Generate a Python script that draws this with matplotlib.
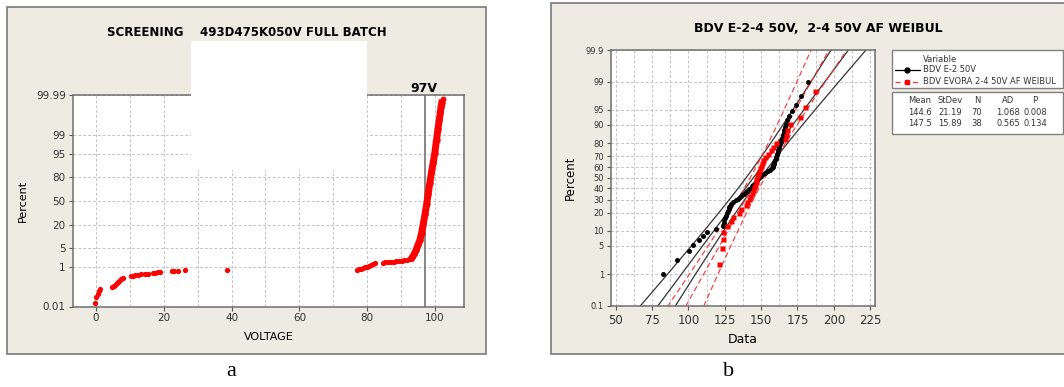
import numpy as np
import matplotlib
matplotlib.use('Agg')
import matplotlib.pyplot as plt
from matplotlib.patches import Rectangle
from matplotlib.lines import Line2D
from matplotlib.ticker import FixedLocator, NullLocator, MultipleLocator
from statistics import NormalDist

# ---------------- panel a : screening, voltage vs cumulative percent
a_sparse_v = [-0.3, 0.0, 0.5, 0.9, 1.3, 4.8, 5.3, 5.7, 6.1, 6.5, 6.9, 7.3, 7.8,
              10.3, 10.9, 11.6, 12.4, 13.4, 14.3, 15.2, 16.7, 17.4, 18.2, 19.0,
              22.3, 23.0, 24.2, 26.3, 38.5,
              76.9, 77.5, 78.1, 78.7, 79.3, 79.9, 80.5, 81.1, 81.7, 82.3,
              84.7, 85.4, 86.2, 87.0, 87.8, 88.6, 89.4, 90.2, 91.0, 91.8, 92.6]
a_sparse_p = [0.0165, 0.037, 0.055, 0.075, 0.10, 0.12, 0.14, 0.16, 0.19, 0.22, 0.25, 0.29, 0.34,
              0.39, 0.41, 0.43, 0.45, 0.48, 0.50, 0.52, 0.56, 0.58, 0.60, 0.62,
              0.67, 0.69, 0.70, 0.73, 0.75,
              0.76, 0.80, 0.85, 0.90, 0.96, 1.03, 1.10, 1.20, 1.32, 1.45,
              1.47, 1.50, 1.53, 1.56, 1.60, 1.64, 1.68, 1.73, 1.80, 1.90, 2.05]
# steep, densely packed part of the curve
a_dense_v = [93.3, 93.9, 94.5, 95.0, 95.6, 96.1, 96.6, 97.1, 97.6, 98.0, 98.5, 99.0,
             99.5, 100.0, 100.5, 100.9, 101.3, 101.6, 101.8, 102.0]
a_dense_p = [2.3, 3.0, 4.2, 6.0, 8.4, 13, 21, 32, 46, 59, 73, 84,
             91, 95.5, 98.4, 99.4, 99.77, 99.90, 99.95, 99.97]
a_top_v = [102.3]
a_top_p = [99.983]
a_limit = 97
a_yticks = [0.01, 1, 5, 20, 50, 80, 95, 99, 99.99]
a_ylabels = ['0.01', '1', '5', '20', '50', '80', '95', '99', '99.99']

# ---------------- panel b : two breakdown voltage samples
b_black = [82.8, 92.0, 100.7, 103.3, 107.3, 109.8, 113.0, 119.3, 123.5,
           124.2, 124.8, 125.3, 125.9, 126.5, 127.0, 127.6, 128.2, 128.8, 129.5,
           131.0, 132.6, 134.0, 135.5, 137.0, 138.3, 139.5, 140.6, 141.8,
           143.0, 143.8, 144.6, 145.5, 146.3, 147.2, 148.0, 149.0, 150.0,
           151.5, 153.0, 154.5, 156.0,
           157.5, 158.0, 158.4, 158.8, 159.2, 159.6, 160.0, 160.3, 160.7, 161.0,
           161.4, 161.8, 162.2, 162.6, 163.0, 163.4, 163.8,
           164.2, 164.8, 165.5, 166.0, 166.5, 167.0,
           167.5, 169.0, 171.0, 174.0, 177.4, 182.4]
b_red = [121.2, 122.8, 123.5, 124.0, 126.5, 129.0, 130.5, 134.5, 136.5, 139.5,
         140.5, 141.5, 142.5, 143.5, 144.3, 145.0, 145.6, 146.2, 146.8, 147.4,
         148.0, 148.6, 149.3, 150.0, 150.8, 151.6, 152.5, 154.5, 156.5, 158.5,
         160.5, 166.5, 167.0, 167.5, 169.8, 176.7, 180.1, 187.0]
b_names = ['BDV E-2 50V', 'BDV EVORA 2-4 50V AF WEIBUL']
b_mean = [144.6, 147.5]
b_sd = [21.19, 15.89]
b_n = [70, 38]
b_ad = ['1.068', '0.565']
b_p = ['0.008', '0.134']
b_yticks = [0.1, 1, 5, 10, 20, 30, 40, 50, 60, 70, 80, 90, 95, 99, 99.9]
b_ylabels = ['0.1', '1', '5', '10', '20', '30', '40', '50', '60', '70', '80', '90', '95', '99', '99.9']

W, H = 1064, 387
def fx(px): return px / W
def fy(py): return 1 - py / H

nd = NormalDist()
_ppf = np.vectorize(nd.inv_cdf, otypes=[float])
_cdf = np.vectorize(nd.cdf, otypes=[float])

def prob_fwd(p):
    p = np.clip(np.asarray(p, float) / 100.0, 1e-9, 1 - 1e-9)
    return _ppf(p)

def prob_inv(z):
    return 100.0 * _cdf(np.asarray(z, float))

BG = '#EEEBE2'
GRID = dict(color='#c4c4c4', linestyle=(0, (3, 2)), linewidth=0.7)
TICKC = '#333333'
TXT = dict(fontsize=6, va='center', color='#333333', zorder=6)

fig = plt.figure(figsize=(10.64, 3.87), dpi=100)
fig.patch.set_facecolor('white')

# panel frames
fig.add_artist(Rectangle((fx(7), fy(354)), fx(486) - fx(7), fy(7) - fy(354),
                         transform=fig.transFigure, facecolor=BG, edgecolor='#7a7a7a',
                         lw=1.2, zorder=-2))
fig.add_artist(Rectangle((fx(551), fy(354)), fx(1070) - fx(551), fy(3) - fy(354),
                         transform=fig.transFigure, facecolor=BG, edgecolor='#7a7a7a',
                         lw=1.2, zorder=-2))

# ---------------- panel a
ax1 = fig.add_axes([fx(72.7), fy(306.5), fx(464) - fx(72.7), fy(95) - fy(306.5)])
ax1.set_yscale('function', functions=(prob_fwd, prob_inv))
ax1.set_xlim(-6.9, 108.6)
ax1.set_ylim(0.01, 99.99)
ax1.yaxis.set_major_locator(FixedLocator(a_yticks))
ax1.yaxis.set_minor_locator(NullLocator())
ax1.set_yticklabels(a_ylabels)
ax1.xaxis.set_major_locator(MultipleLocator(20))
ax1.xaxis.set_minor_locator(MultipleLocator(10))
ax1.grid(True, which='both', axis='x', **GRID)
ax1.grid(True, which='major', axis='y', **GRID)
ax1.tick_params(which='minor', length=0)
ax1.tick_params(which='major', length=3, color='#555555', labelsize=7.5,
                labelcolor=TICKC, pad=2)
for s in ax1.spines.values():
    s.set_color('#6e6e6e')
    s.set_linewidth(1.1)
ax1.axvline(a_limit, color='#7d7d7d', lw=1.3, zorder=2)
ax1.plot(a_sparse_v, a_sparse_p, 'o', color='#ff0000', ms=3.8, mec='none', zorder=3)
ax1.plot(a_dense_v, a_dense_p, '-o', color='#ff0000', ms=4.6, lw=5.0, mec='none', zorder=3)
ax1.plot(a_top_v, a_top_p, 'o', color='#ff0000', ms=4.2, mec='none', zorder=3)
ax1.set_xlabel('VOLTAGE', fontsize=8, labelpad=6)
ax1.set_ylabel('Percent', fontsize=8, labelpad=6)
fig.text(fx(424), fy(88), '97V', ha='center', va='center', fontsize=9, fontweight='bold')
fig.text(fx(247), fy(32), 'SCREENING    493D475K050V FULL BATCH', ha='center',
         va='center', fontsize=8.5, fontweight='bold')
# blanked area of the original figure
fig.add_artist(Rectangle((fx(190.7), fy(169.5)), fx(366.7) - fx(190.7), fy(41) - fy(169.5),
                         transform=fig.transFigure, facecolor='white', edgecolor='none',
                         zorder=5))

# ---------------- panel b
ax2 = fig.add_axes([fx(611), fy(305.7), fx(875) - fx(611), fy(50) - fy(305.7)])
ax2.set_yscale('function', functions=(prob_fwd, prob_inv))
ax2.set_xlim(46.8, 228.3)
ax2.set_ylim(0.1, 99.9)
ax2.yaxis.set_major_locator(FixedLocator(b_yticks))
ax2.yaxis.set_minor_locator(NullLocator())
ax2.set_yticklabels(b_ylabels)
ax2.xaxis.set_major_locator(MultipleLocator(25))
ax2.xaxis.set_minor_locator(MultipleLocator(12.5))
ax2.grid(True, which='both', axis='x', **GRID)
ax2.grid(True, which='major', axis='y', **GRID)
ax2.tick_params(which='minor', length=0)
ax2.tick_params(axis='y', which='major', length=3, color='#555555', labelsize=6,
                labelcolor=TICKC, pad=2)
ax2.tick_params(axis='x', which='major', length=3, color='#555555', labelsize=8.5,
                labelcolor=TICKC, pad=3)
for s in ax2.spines.values():
    s.set_color('#6e6e6e')
    s.set_linewidth(1.1)

z = np.linspace(-3.3, 3.3, 200)
pct = prob_inv(z)
fit_styles = [dict(color='#333333', lw=0.9, ls='-'), dict(color='#ff3030', lw=0.8, ls=(0, (5, 3)))]
for mu, sd, n, st in zip(b_mean, b_sd, b_n, fit_styles):
    half = 1.96 * sd * np.sqrt(1.0 / n + z ** 2 / (2.0 * (n - 1)))
    ax2.plot(mu + sd * z, pct, zorder=2, **st)
    ax2.plot(mu + sd * z - half, pct, zorder=2, **st)
    ax2.plot(mu + sd * z + half, pct, zorder=2, **st)

for vals, mk, col in [(b_black, 'o', 'black'), (b_red, 's', '#ff0000')]:
    vals = np.sort(np.asarray(vals))
    n = len(vals)
    pos = (np.arange(1, n + 1) - 0.3) / (n + 0.4) * 100
    ax2.plot(vals, pos, mk, color=col, ms=3.6, mec='none', zorder=3)

ax2.set_xlabel('Data', fontsize=9, labelpad=4)
ax2.set_ylabel('Percent', fontsize=8.5, labelpad=6)
fig.text(fx(818), fy(29), 'BDV E-2-4 50V,  2-4 50V AF WEIBUL', ha='center', va='center',
         fontsize=9, fontweight='bold')

# legend box
fig.add_artist(Rectangle((fx(891.7), fy(88)), fx(1063) - fx(891.7), fy(50) - fy(88),
                         transform=fig.transFigure, facecolor='white', edgecolor='#808080',
                         lw=1.0, zorder=4))
fig.text(fx(923), fy(59), 'Variable', ha='left', **TXT)
fig.add_artist(Line2D([fx(895), fx(907), fx(920)], [fy(70), fy(70), fy(70)], color='black',
                      lw=0.9, marker='o', ms=3.5, markevery=[1], transform=fig.transFigure, zorder=5))
fig.add_artist(Line2D([fx(895), fx(907), fx(920)], [fy(81.5), fy(81.5), fy(81.5)], color='#ff3030',
                      lw=0.9, ls=(0, (4, 3)), marker='s', ms=3.5, mfc='#ff0000', mec='#ff0000',
                      markevery=[1], transform=fig.transFigure, zorder=5))
for row, name in enumerate(b_names):
    fig.text(fx(923), fy(70 + 11.5 * row), name, ha='left', **TXT)

# stats table box
fig.add_artist(Rectangle((fx(891.7), fy(134)), fx(1063) - fx(891.7), fy(92) - fy(134),
                         transform=fig.transFigure, facecolor='white', edgecolor='#808080',
                         lw=1.0, zorder=4))
cols_x = [920, 950, 977, 1008, 1035]
for cx, head in zip(cols_x, ['Mean', 'StDev', 'N', 'AD', 'P']):
    fig.text(fx(cx), fy(100.7), head, ha='center', **TXT)
for row in range(2):
    vals = ['%.1f' % b_mean[row], '%.2f' % b_sd[row], str(b_n[row]), b_ad[row], b_p[row]]
    for cx, v in zip(cols_x, vals):
        fig.text(fx(cx), fy(112.3 + 11.7 * row), v, ha='center', **TXT)

# panel letters
fig.text(fx(231), fy(372), 'a', fontsize=16, family='Liberation Serif', ha='center', va='center')
fig.text(fx(729), fy(372), 'b', fontsize=16, family='Liberation Serif', ha='center', va='center')

fig.savefig('out.png', dpi=100)
